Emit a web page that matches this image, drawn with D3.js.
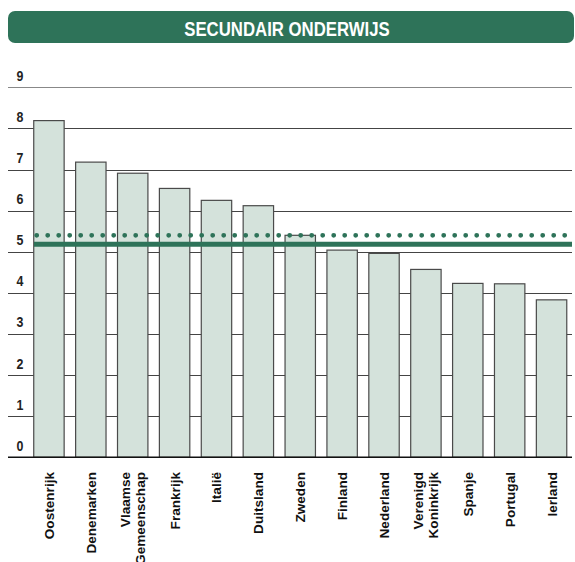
<!DOCTYPE html>
<html><head><meta charset="utf-8">
<script src="https://cdn.jsdelivr.net/npm/d3@7/dist/d3.min.js"></script>
<style>
body{margin:0;background:#fff;}
svg{display:block;}
.cond{font-family:"Liberation Sans",Arial,sans-serif;font-weight:bold;}
.lab{font-family:"Liberation Sans",Arial,sans-serif;font-weight:bold;}
</style></head>
<body><svg id="c" width="575" height="562"></svg>
<script>
const title = "SECUNDAIR ONDERWIJS";
const categories = ["Oostenrijk","Denemarken","Vlaamse\nGemeenschap","Frankrijk","Italië","Duitsland","Zweden","Finland","Nederland","Verenigd\nKoninkrijk","Spanje","Portugal","Ierland"];
const values = [8.19,7.18,6.91,6.54,6.25,6.12,5.40,5.04,4.96,4.57,4.23,4.22,3.83];
const yTicks = [0,1,2,3,4,5,6,7,8,9];
const dottedRef = 5.40;
const solidRef = 5.18;

const green = "#2e7359";
const svg = d3.select("#c");

// title banner
svg.append("rect").attr("x",8).attr("y",11).attr("width",566).attr("height",32).attr("rx",7).attr("fill",green);
svg.append("text").attr("class","cond").attr("text-anchor","middle")
  .attr("transform","translate(287,35.5) scale(0.86,1)")
  .attr("fill","#fff").attr("font-size",19.5).text(title);

const y = d3.scaleLinear().domain([0,9]).range([457.3,87.3]);
const x = d3.scaleBand().domain(categories).range([28,572.5]).paddingInner(0.274).paddingOuter(0.137);

// gridlines
svg.append("g").selectAll("line").data(yTicks.filter(d=>d>0)).join("line")
  .attr("x1",8).attr("x2",572).attr("y1",d=>Math.round(y(d))+0.5).attr("y2",d=>Math.round(y(d))+0.5)
  .attr("stroke",d=>d===9?"#888":"#444").attr("stroke-width",1.2);

// tick labels
svg.append("g").selectAll("text").data(yTicks).join("text").attr("class","cond")
  .attr("transform",d=>`translate(16.5,${y(d)-6.5}) scale(0.8,1)`)
  .attr("font-size",15.5).attr("fill","#222").text(d=>d);

// bars
svg.append("g").selectAll("rect").data(values).join("rect")
  .attr("x",(d,i)=>x(categories[i])).attr("width",x.bandwidth())
  .attr("y",d=>y(d)).attr("height",d=>y(0)-y(d))
  .attr("fill","#d4e2db").attr("stroke","#4a4a4a").attr("stroke-width",1.2);

// baseline
svg.append("line").attr("x1",8).attr("x2",572).attr("y1",y(0)).attr("y2",y(0)).attr("stroke","#111").attr("stroke-width",1.5);

// reference lines
svg.append("line").attr("x1",34).attr("x2",572).attr("y1",y(solidRef)).attr("y2",y(solidRef))
  .attr("stroke",green).attr("stroke-width",5);
svg.append("line").attr("x1",36.7).attr("x2",572).attr("y1",y(dottedRef)).attr("y2",y(dottedRef))
  .attr("stroke",green).attr("stroke-width",4.8).attr("stroke-linecap","round").attr("stroke-dasharray","0 11");

// x labels
const xl = svg.append("g").selectAll("g").data(categories).join("g")
  .attr("transform",d=>`translate(${x(d)+x.bandwidth()/2},472) rotate(-90)`);
xl.each(function(d){
  const lines = d.split("\n");
  const t = d3.select(this).append("text").attr("class","lab").attr("text-anchor","end")
    .attr("font-size",13.6).attr("fill","#111");
  if(lines.length===1){
    t.append("tspan").attr("x",0).attr("y",5).text(lines[0]);
  } else {
    t.append("tspan").attr("x",0).attr("y",-2.5).text(lines[0]);
    t.append("tspan").attr("x",0).attr("y",12.5).text(lines[1]);
  }
});
</script></body></html>
